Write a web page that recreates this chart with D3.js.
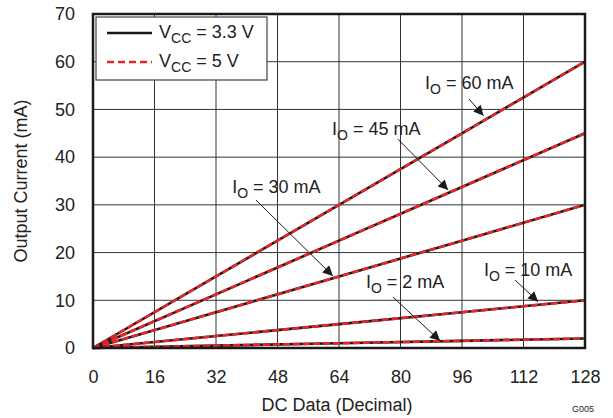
<!DOCTYPE html>
<html>
<head>
<meta charset="utf-8">
<script src="https://cdn.jsdelivr.net/npm/d3@7"></script>
<style>
  body { margin: 0; background: #fff; }
  text { font-family: "Liberation Sans", Arial, sans-serif; fill: #222; }
</style>
</head>
<body>
<svg id="chart" width="613" height="418"></svg>
<script>
const svg = d3.select("#chart");
const width = 613;
const height = 418;
const margin = { top: 14, right: 28, bottom: 70, left: 93 };
const graphWidth = width - margin.left - margin.right;
const graphHeight = height - margin.top - margin.bottom;
const fontSize = 18;

// data
const xTicks = [0, 16, 32, 48, 64, 80, 96, 112, 128];
const yTicks = [0, 10, 20, 30, 40, 50, 60, 70];
const dcData = [0, 32, 64, 96, 128];
const io60 = [0, 15, 30, 45, 60];
const io45 = [0, 11.25, 22.5, 33.75, 45];
const io30 = [0, 7.5, 15, 22.5, 30];
const io10 = [0, 2.5, 5, 7.5, 10];
const io2 = [0, 0.5, 1, 1.5, 2];
const seriesList = [io60, io45, io30, io10, io2];
const legendLabels = ["3.3 V", "5 V"];

// annotation label, text start, arrow start, arrow tip (data units)
const notes = [
  { label: "60 mA", tx: 86.4, ty: 54.3, fx: 97.8, fy: 52.2, ax: 101.6, ay: 48.7 },
  { label: "45 mA", tx: 62.2, ty: 44.6, fx: 79.3, fy: 43.8, ax: 92.4, ay: 33.1 },
  { label: "30 mA", tx: 36.2, ty: 32.5, fx: 42.4, fy: 31.0, ax: 62.4, ay: 15.1 },
  { label: "2 mA", tx: 71.0, ty: 12.6, fx: 78.0, fy: 10.7, ax: 90.3, ay: 1.5 },
  { label: "10 mA", tx: 101.7, ty: 15.1, fx: 109.8, fy: 14.25, ax: 115.8, ay: 9.7 }
];

const x = d3.scaleLinear().domain([0, 128]).range([0, graphWidth]);
const y = d3.scaleLinear().domain([0, 70]).range([graphHeight, 0]);

const graph = svg.append("g")
  .attr("transform", `translate(${margin.left},${margin.top})`);

// grid
graph.append("g")
  .selectAll("line")
  .data(xTicks)
  .join("line")
  .attr("x1", d => x(d)).attr("x2", d => x(d))
  .attr("y1", 0).attr("y2", graphHeight)
  .attr("stroke", "#333").attr("stroke-width", 1);

graph.append("g")
  .selectAll("line")
  .data(yTicks)
  .join("line")
  .attr("y1", d => y(d)).attr("y2", d => y(d))
  .attr("x1", 0).attr("x2", graphWidth)
  .attr("stroke", "#333").attr("stroke-width", 1);

// axes (labels only)
const xAxis = graph.append("g")
  .attr("transform", `translate(0,${graphHeight})`)
  .call(d3.axisBottom(x).tickValues(xTicks).tickSize(0).tickPadding(22));
const yAxis = graph.append("g")
  .call(d3.axisLeft(y).tickValues(yTicks).tickSize(0).tickPadding(18));
[xAxis, yAxis].forEach(a => {
  a.select(".domain").remove();
  a.selectAll("text").attr("font-size", fontSize)
    .attr("font-family", "Liberation Sans, Arial, sans-serif").attr("fill", "#222");
});

// lines
const line = d3.line()
  .x((d, i) => x(dcData[i]))
  .y(d => y(d));

seriesList.forEach(s => {
  graph.append("path")
    .datum(s)
    .attr("fill", "none")
    .attr("stroke", "#1a1a1a")
    .attr("stroke-width", 2.6)
    .attr("d", line);
  graph.append("path")
    .datum(s)
    .attr("fill", "none")
    .attr("stroke", "#e8262a")
    .attr("stroke-width", 2.6)
    .attr("stroke-dasharray", "7,3")
    .attr("d", line);
});

// frame
graph.append("rect")
  .attr("width", graphWidth).attr("height", graphHeight)
  .attr("fill", "none").attr("stroke", "#1a1a1a").attr("stroke-width", 2.5);

// annotations
svg.append("defs").append("marker")
  .attr("id", "arrow")
  .attr("viewBox", "0 0 10 10")
  .attr("refX", 10).attr("refY", 5)
  .attr("markerWidth", 13).attr("markerHeight", 10)
  .attr("markerUnits", "userSpaceOnUse")
  .attr("orient", "auto")
  .append("path")
  .attr("d", "M0,0L10,5L0,10Z")
  .attr("fill", "#1a1a1a");

notes.forEach(n => {
  graph.append("line")
    .attr("x1", x(n.fx)).attr("y1", y(n.fy))
    .attr("x2", x(n.ax)).attr("y2", y(n.ay))
    .attr("stroke", "#1a1a1a").attr("stroke-width", 1)
    .attr("marker-end", "url(#arrow)");
  const t = graph.append("text")
    .attr("x", x(n.tx)).attr("y", y(n.ty))
    .attr("font-size", fontSize);
  t.append("tspan").text("I");
  t.append("tspan").attr("font-size", 14).attr("dy", 5).text("O");
  t.append("tspan").attr("dy", -5).text(" = " + n.label);
});

// legend
const legend = svg.append("g").attr("transform", "translate(96,17)");
legend.append("rect")
  .attr("width", 171).attr("height", 63)
  .attr("fill", "#fff").attr("stroke", "#444").attr("stroke-width", 1.2);

legendLabels.forEach((lab, i) => {
  const ly = 16 + i * 29;
  legend.append("line")
    .attr("x1", 11).attr("x2", 56)
    .attr("y1", ly).attr("y2", ly)
    .attr("stroke", i === 0 ? "#1a1a1a" : "#e8262a")
    .attr("stroke-width", 2.6)
    .attr("stroke-dasharray", i === 0 ? null : "7,4");
  const t = legend.append("text")
    .attr("x", 63).attr("y", ly + 5)
    .attr("font-size", fontSize);
  t.append("tspan").text("V");
  t.append("tspan").attr("font-size", 14).attr("dy", 5).text("CC");
  t.append("tspan").attr("dy", -5).text(" = " + lab);
});

// axis titles
svg.append("text")
  .attr("x", margin.left + graphWidth / 2 - 2)
  .attr("y", 411)
  .attr("text-anchor", "middle")
  .attr("font-size", fontSize)
  .text("DC Data (Decimal)");

svg.append("text")
  .attr("transform", `translate(27,${margin.top + graphHeight / 2}) rotate(-90)`)
  .attr("text-anchor", "middle")
  .attr("font-size", fontSize)
  .text("Output Current (mA)");

svg.append("text")
  .attr("x", 594).attr("y", 412)
  .attr("text-anchor", "end")
  .attr("font-size", 9)
  .text("G005");
</script>
</body>
</html>
